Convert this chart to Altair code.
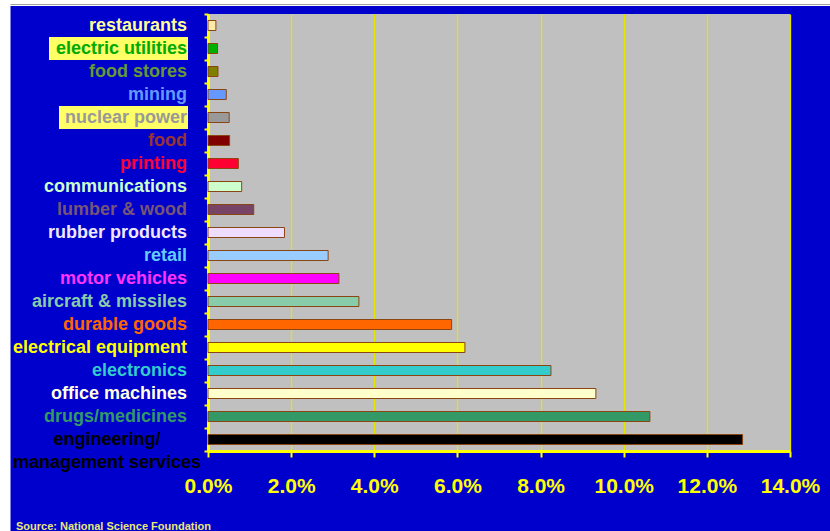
import altair as alt
import pandas as pd

categories = ["restaurants", "electric utilities", "food stores", "mining", "nuclear power",
              "food", "printing", "communications", "lumber & wood", "rubber products",
              "retail", "motor vehicles", "aircraft & missiles", "durable goods",
              "electrical equipment", "electronics", "office machines", "drugs/medicines",
              "engineering/ management services"]
values_pct = [0.19, 0.23, 0.24, 0.44, 0.51, 0.52, 0.73, 0.81, 1.10, 1.84,
              2.89, 3.15, 3.63, 5.86, 6.18, 8.25, 9.33, 10.63, 12.86]
bar_colors = ["#FFE9A8", "#00B000", "#808000", "#6699FF", "#999999", "#800000", "#FF0033",
              "#CCFFCC", "#774466", "#EEDDFF", "#99CCFF", "#FF00FF", "#88CCAA", "#FF6600",
              "#FFFF00", "#33CCCC", "#FFFFCC", "#339966", "#000000"]
label_colors = ["#FFFF99", "#00AA00", "#669933", "#6699FF", "#999999", "#993333", "#FF0033",
                "#CCFFCC", "#775577", "#F0E6FF", "#66CCFF", "#FF33FF", "#88CCAA", "#FF6600",
                "#FFFF00", "#33CCCC", "#FFFFE0", "#339966", "#000000"]
highlighted = ["electric utilities", "nuclear power"]
x_ticks = [0.0, 0.02, 0.04, 0.06, 0.08, 0.10, 0.12, 0.14]
source_text = "Source: National Science Foundation"

df = pd.DataFrame({
    "category": categories,
    "share": [v / 100 for v in values_pct],
    "bar_color": bar_colors,
    "label_color": label_colors,
})
df["label"] = [["engineering/", "management services"] if c.startswith("engineering") else c
               for c in categories]

one = pd.DataFrame({"k": [0]})

W, H = 582, 437
BLUE = "#0000CC"
YEL = "#FFFF00"

yenc = alt.Y("category:N", sort=categories,
             scale=alt.Scale(paddingInner=0, paddingOuter=0))

bars = alt.Chart(df).mark_bar(size=10, stroke="#8B4513", strokeWidth=1).encode(
    x=alt.X("share:Q", scale=alt.Scale(domain=[0, 0.14], nice=False),
            axis=alt.Axis(values=x_ticks, format=".1%", title=None,
                          domainColor=YEL, domainWidth=3, tickColor=YEL, tickWidth=2,
                          tickSize=6, grid=True, gridColor="#E6E600", gridWidth=1.3,
                          labelColor=YEL, labelFontSize=21, labelFontWeight="bold",
                          labelFont="Liberation Sans",
                          labelPadding=18, labelFlush=False)),
    y=alt.Y("category:N", sort=categories,
            scale=alt.Scale(paddingInner=0, paddingOuter=0),
            axis=alt.Axis(title=None, labels=False, domainColor=YEL, domainWidth=3,
                          tickColor=YEL, tickWidth=2, tickSize=4, tickBand="extent",
                          grid=False)),
    color=alt.Color("bar_color:N", scale=None),
)

hl2 = alt.Chart(df).transform_filter(
    alt.FieldEqualPredicate(field="category", equal="nuclear power")
).mark_rect(color="#FFFF66").encode(y=yenc, x=alt.value(-149), x2=alt.value(-20))
hl1 = alt.Chart(df).transform_filter(
    alt.FieldEqualPredicate(field="category", equal="electric utilities")
).mark_rect(color="#FFFF66").encode(y=yenc, x=alt.value(-159), x2=alt.value(-20))

labels = alt.Chart(df).transform_filter(
    "indexof(datum.category, 'engineering') < 0"
).mark_text(align="right", baseline="top", dy=-9, fontSize=18, fontWeight="bold",
            font="Liberation Sans").encode(
    y=yenc,
    x=alt.value(-21),
    text="label",
    color=alt.Color("label_color:N", scale=None),
)

eng = alt.Chart(df).transform_filter(
    "indexof(datum.category, 'engineering') >= 0"
).mark_text(align="center", baseline="top", dy=-9, fontSize=18, fontWeight="bold",
            font="Liberation Sans", lineHeight=23).encode(
    y=yenc,
    x=alt.value(-101),
    text="label",
    color=alt.Color("label_color:N", scale=None),
)

white_left = alt.Chart(one).mark_rect(color="white").encode(
    x=alt.value(-210), x2=alt.value(-197.5), y=alt.value(-20), y2=alt.value(520))
white_top = alt.Chart(one).mark_rect(color="white").encode(
    x=alt.value(-210), x2=alt.value(630), y=alt.value(-20), y2=alt.value(-8))
gray_line = alt.Chart(one).mark_rule(color="#A0A0A0", strokeWidth=1).encode(
    x=alt.value(-197.5), x2=alt.value(630), y=alt.value(-9.5))

source = alt.Chart(one).mark_text(align="left", baseline="alphabetic", fontSize=11,
                                  fontWeight="bold", font="Liberation Sans",
                                  color="#E8E87A").encode(
    x=alt.value(-192), y=alt.value(516), text=alt.value(source_text))

chart = alt.layer(
    white_left, white_top, gray_line, bars, hl1, hl2, labels, eng, source
).properties(
    width=W, height=H,
    background=BLUE,
    autosize=alt.AutoSizeParams(type="none"),
    padding={"left": 208, "top": 14, "right": 40, "bottom": 80},
).configure_view(fill="#C0C0C0", stroke=None)

chart.save("out.html", embed_options={"renderer": "svg", "actions": False})
